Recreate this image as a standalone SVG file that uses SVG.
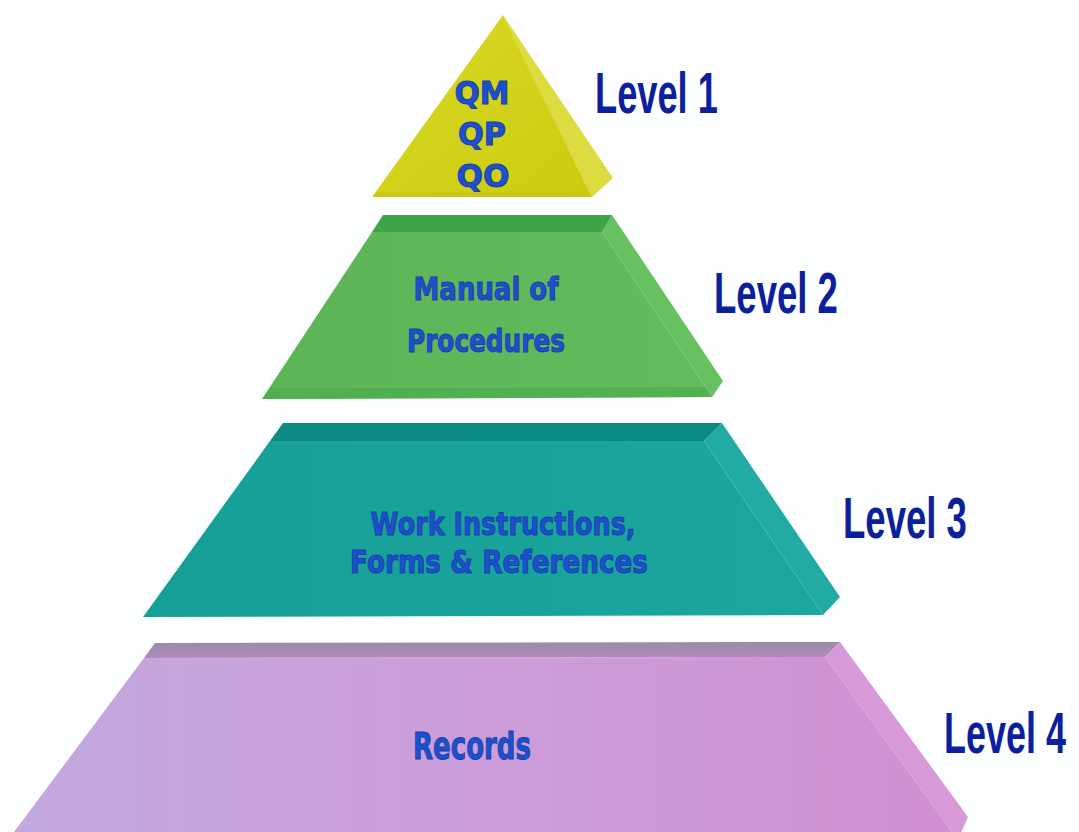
<svg xmlns="http://www.w3.org/2000/svg" width="1079" height="832" viewBox="0 0 1079 832">
  <defs>
    <linearGradient id="gYellow" x1="0" y1="0" x2="1" y2="1">
      <stop offset="0" stop-color="#dada26"/>
      <stop offset="1" stop-color="#cbcb10"/>
    </linearGradient>
    <linearGradient id="gGreen" x1="0" y1="0" x2="1" y2="0">
      <stop offset="0" stop-color="#5cb457"/>
      <stop offset="1" stop-color="#63bb5d"/>
    </linearGradient>
    <linearGradient id="gTeal" x1="0" y1="0" x2="1" y2="0">
      <stop offset="0" stop-color="#169f96"/>
      <stop offset="1" stop-color="#1ba79e"/>
    </linearGradient>
    <linearGradient id="gPink" x1="0" y1="0" x2="1" y2="0">
      <stop offset="0" stop-color="#c3a8e0"/>
      <stop offset="0.5" stop-color="#cc9dda"/>
      <stop offset="1" stop-color="#d08fd2"/>
    </linearGradient>
    <linearGradient id="gPinkTop" x1="0" y1="0" x2="0" y2="1">
      <stop offset="0" stop-color="#9c8aa8"/>
      <stop offset="1" stop-color="#b08cbc"/>
    </linearGradient>
  </defs>
  <style>
    .label { font-family: "DejaVu Sans", "Liberation Sans", sans-serif; font-weight: bold; font-size: 32px; fill: #1c50cc; stroke: #1840a8; stroke-width: 1; text-anchor: middle; }
    .big { font-size: 38px; }
    .level { font-family: "Liberation Sans", "DejaVu Sans", sans-serif; font-weight: bold; font-size: 58px; fill: #0c1f9c; }
  </style>

  <rect width="1079" height="832" fill="#fdfeff"/>

  <!-- Level 1: apex triangle -->
  <g id="level1">
    <polygon points="503,15 613,178 592,197" fill="#dcdc40"/>
    <polygon points="503,15 372,197 592,197" fill="url(#gYellow)"/>
    <polygon points="372,197 592,197 588,192 376,192" fill="#c4c410" opacity="0.6"/>
    <text class="label" x="482" y="104" textLength="55" lengthAdjust="spacingAndGlyphs">QM</text>
    <text class="label" x="482" y="145" textLength="48" lengthAdjust="spacingAndGlyphs">QP</text>
    <text class="label" x="483" y="187" textLength="53" lengthAdjust="spacingAndGlyphs">QO</text>
  </g>

  <!-- Level 2 block -->
  <g id="level2">
    <polygon points="612,215 723,381 712,397 602,232" fill="#68c160"/>
    <polygon points="372,232 602,232 712,397 262,399" fill="url(#gGreen)"/>
    <polygon points="383,215 612,215 602,232 372,232" fill="#3fa447"/>
    <polygon points="270,388 705,387 712,397 262,399" fill="#4fae4d" opacity="0.8"/>
    <text class="label" x="486" y="300" textLength="145" lengthAdjust="spacingAndGlyphs">Manual of</text>
    <text class="label" x="486" y="352" textLength="158" lengthAdjust="spacingAndGlyphs">Procedures</text>
  </g>

  <!-- Level 3 block -->
  <g id="level3">
    <polygon points="722,423 840,597 823,615 704,441" fill="#22aba5"/>
    <polygon points="270,441 704,441 823,615 143,617" fill="url(#gTeal)"/>
    <polygon points="283,423 722,423 704,441 270,441" fill="#0e8a85"/>
    <text class="label" x="503" y="535" textLength="265" lengthAdjust="spacingAndGlyphs">Work Instructions,</text>
    <text class="label" x="499" y="573" textLength="298" lengthAdjust="spacingAndGlyphs">Forms &amp; References</text>
  </g>

  <!-- Level 4 block (runs past the lower edge) -->
  <g id="level4">
    <polygon points="840,642 968,817 958,840 825,657" fill="#d899d8"/>
    <polygon points="144,658 825,657 958,840 8,840" fill="url(#gPink)"/>
    <polygon points="155,643 840,642 825,657 144,658" fill="url(#gPinkTop)"/>
    <text class="label big" x="472" y="759" textLength="118" lengthAdjust="spacingAndGlyphs">Records</text>
  </g>

  <!-- Level captions: condensed horizontally -->
  <g id="captions">
    <text class="level" transform="translate(595,113) scale(0.625,1)">Level 1</text>
    <text class="level" transform="translate(714,313) scale(0.63,1)">Level 2</text>
    <text class="level" transform="translate(843,538) scale(0.63,1)">Level 3</text>
    <text class="level" transform="translate(944,753) scale(0.62,1)">Level 4</text>
  </g>
</svg>
